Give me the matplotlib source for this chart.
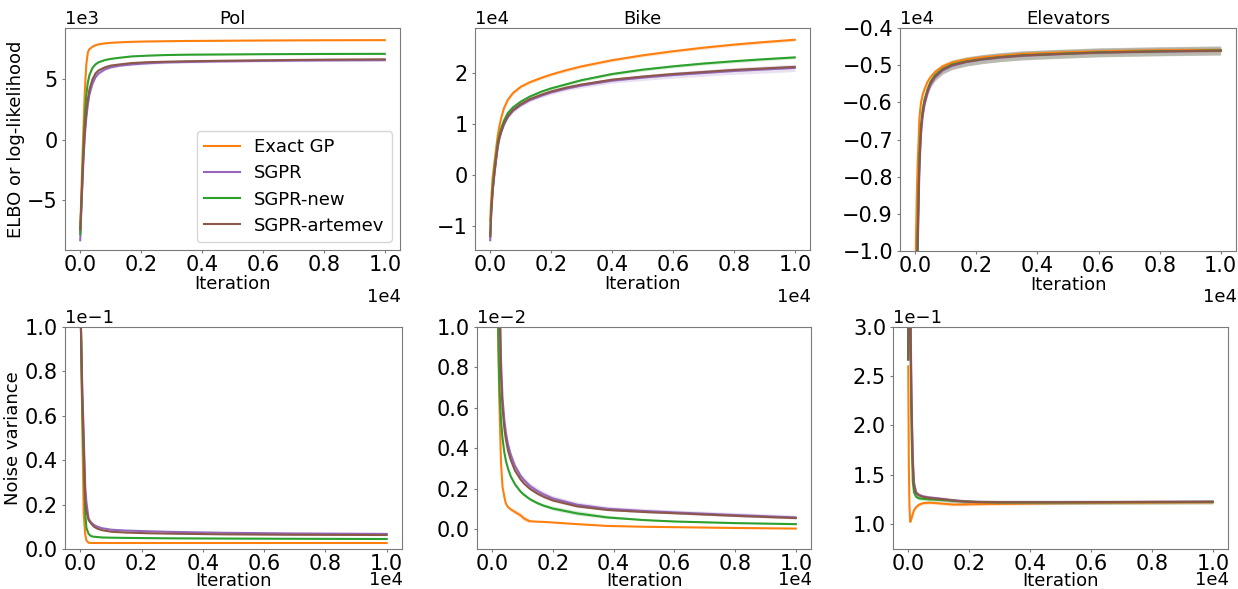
import matplotlib
matplotlib.use("Agg")
import matplotlib.pyplot as plt
from matplotlib.ticker import MultipleLocator, ScalarFormatter

plt.rcParams['font.family'] = ['DejaVu Sans']
plt.rcParams['font.size'] = 13

labels = ['Exact GP', 'SGPR', 'SGPR-new', 'SGPR-artemev']
colors = ['#ff7f0e', '#9467bd', '#2ca02c', '#8c564b']

# ---------------- Pol: ELBO ----------------
pol_elbo_it = [0, 50, 100, 150, 200, 250, 300, 400, 500, 600, 800, 1000, 1300, 1700, 2200, 2800, 3500, 4700, 6000, 8000, 10000]
pol_elbo_exact = [-7500, -3300, 500, 4000, 6200, 7190, 7450, 7650, 7780, 7850, 7930, 7980, 8020, 8060, 8090, 8110, 8130, 8150, 8170, 8190, 8200]
pol_elbo_sgpr = [-8300, -5000, -2000, 300, 1800, 2900, 3700, 4600, 5150, 5450, 5780, 5960, 6100, 6200, 6290, 6360, 6400, 6450, 6490, 6530, 6550]
pol_elbo_new = [-7800, -4500, -1000, 1800, 3700, 4700, 5300, 5900, 6200, 6370, 6550, 6650, 6750, 6860, 6920, 6970, 7000, 7020, 7040, 7060, 7070]
pol_elbo_artemev = [-7400, -4500, -1500, 800, 2300, 3300, 4100, 4950, 5450, 5700, 5950, 6100, 6200, 6310, 6380, 6420, 6460, 6500, 6540, 6590, 6620]
pol_elbo_band_exact = [30, 30, 30, 30, 30, 30, 30, 30, 30, 30, 30, 30, 30, 30, 30, 30, 30, 30, 30, 30, 30]
pol_elbo_band_sgpr = [150, 150, 150, 150, 150, 140, 130, 120, 110, 100, 100, 90, 90, 90, 90, 90, 90, 90, 90, 90, 90]
pol_elbo_band_new = [40, 40, 40, 40, 40, 40, 40, 30, 30, 30, 30, 30, 30, 30, 30, 30, 30, 30, 30, 30, 30]
pol_elbo_band_artemev = [80, 80, 80, 80, 80, 70, 60, 60, 50, 50, 50, 50, 50, 50, 50, 50, 50, 50, 50, 50, 50]

# ---------------- Bike: ELBO ----------------
bike_elbo_it = [0, 30, 80, 140, 200, 250, 300, 360, 450, 580, 750, 1000, 1300, 1700, 2000, 2500, 3000, 4000, 5000, 6000, 7000, 8000, 9000, 10000]
bike_elbo_exact = [-9000, -5000, -500, 2600, 5500, 7800, 9500, 11100, 13000, 14700, 16000, 17200, 18100, 19000, 19600, 20450, 21200, 22400, 23350, 24150, 24850, 25450, 25950, 26400]
bike_elbo_sgpr = [-12800, -8000, -3300, 200, 3200, 5500, 7000, 8300, 9800, 11300, 12500, 13600, 14600, 15500, 16100, 16850, 17450, 18400, 19000, 19500, 19900, 20300, 20600, 20900]
bike_elbo_new = [-12000, -7000, -2500, 1300, 4000, 6500, 7800, 9100, 10600, 12100, 13200, 14300, 15300, 16300, 16900, 17700, 18500, 19700, 20550, 21200, 21750, 22200, 22600, 22950]
bike_elbo_artemev = [-12000, -7500, -3000, 500, 3500, 5800, 7300, 8500, 10000, 11500, 12700, 13800, 14800, 15700, 16300, 17050, 17650, 18600, 19200, 19700, 20100, 20500, 20800, 21100]
bike_elbo_band_exact = [100, 100, 100, 150, 200, 250, 300, 300, 300, 300, 300, 300, 300, 300, 300, 300, 300, 300, 300, 300, 300, 300, 300, 300]
bike_elbo_band_sgpr = [200, 200, 200, 200, 250, 300, 300, 300, 300, 300, 300, 300, 350, 350, 400, 400, 450, 500, 550, 600, 650, 650, 700, 700]
bike_elbo_band_new = [100, 100, 100, 150, 200, 200, 200, 250, 250, 250, 250, 250, 250, 250, 250, 300, 300, 300, 300, 300, 300, 300, 300, 300]
bike_elbo_band_artemev = [150, 150, 150, 150, 200, 200, 200, 250, 250, 250, 250, 250, 250, 250, 300, 300, 300, 300, 300, 300, 300, 300, 300, 300]

# ---------------- Elevators: ELBO ----------------
elev_elbo_it = [0, 20, 50, 80, 110, 130, 160, 190, 240, 300, 400, 500, 650, 900, 1200, 1660, 2200, 2750, 3500, 4700, 6000, 8000, 10000]
elev_elbo_exact = [-15000, -9800, -8500, -7600, -7000, -6500, -6200, -6000, -5800, -5650, -5450, -5320, -5180, -5030, -4930, -4850, -4790, -4750, -4700, -4660, -4630, -4600, -4590]
elev_elbo_sgpr = [-20500, -14500, -11500, -10000, -8800, -8000, -7350, -6850, -6400, -6080, -5750, -5520, -5330, -5140, -5020, -4920, -4850, -4800, -4750, -4705, -4665, -4635, -4615]
elev_elbo_new = [-19500, -13500, -10600, -9400, -8300, -7600, -7000, -6600, -6200, -5930, -5650, -5450, -5270, -5100, -4985, -4900, -4835, -4785, -4735, -4695, -4655, -4625, -4605]
elev_elbo_artemev = [-20000, -14000, -11000, -9700, -8500, -7800, -7200, -6700, -6300, -6000, -5700, -5480, -5300, -5120, -5000, -4910, -4840, -4790, -4740, -4700, -4660, -4630, -4610]
elev_elbo_band_exact = [60, 60, 60, 60, 60, 60, 70, 70, 80, 80, 80, 80, 80, 80, 80, 80, 70, 70, 70, 70, 70, 70, 70]
elev_elbo_band_sgpr = [100, 100, 100, 100, 100, 100, 100, 110, 110, 110, 120, 120, 120, 120, 120, 120, 120, 120, 120, 120, 120, 120, 120]
elev_elbo_band_new = [100, 100, 100, 100, 100, 100, 100, 110, 110, 110, 120, 120, 120, 120, 120, 120, 120, 120, 120, 120, 120, 120, 120]
elev_elbo_band_artemev = [100, 100, 100, 100, 100, 100, 100, 110, 110, 110, 120, 120, 120, 120, 120, 120, 120, 120, 120, 120, 120, 120, 120]

# ---------------- Pol: noise variance ----------------
pol_noise_it = [0, 20, 60, 110, 160, 200, 270, 350, 450, 550, 700, 1000, 1500, 2200, 3000, 4700, 7000, 10000]
pol_noise_exact = [0.5, 0.1, 0.06, 0.016, 0.0065, 0.0038, 0.0028, 0.0027, 0.0027, 0.0027, 0.0027, 0.0027, 0.0027, 0.0027, 0.0027, 0.0027, 0.0027, 0.0027]
pol_noise_sgpr = [0.5, 0.1, 0.075, 0.052, 0.028, 0.021, 0.0137, 0.012, 0.0108, 0.0101, 0.0094, 0.0087, 0.0083, 0.0080, 0.0077, 0.0073, 0.0070, 0.0068]
pol_noise_new = [0.5, 0.1, 0.065, 0.04, 0.016, 0.0095, 0.0068, 0.0058, 0.0055, 0.0054, 0.0052, 0.0051, 0.0050, 0.0049, 0.0048, 0.0047, 0.0046, 0.0045]
pol_noise_artemev = [0.5, 0.1, 0.07, 0.047, 0.022, 0.017, 0.013, 0.0115, 0.0100, 0.0092, 0.0085, 0.0078, 0.0074, 0.0071, 0.0069, 0.0066, 0.0064, 0.0063]

# ---------------- Bike: noise variance ----------------
bike_noise_it = [0, 150, 190, 230, 260, 290, 340, 400, 450, 520, 610, 750, 940, 1050, 1210, 1270, 1500, 1700, 2000, 2800, 3800, 5000, 6000, 8000, 10000]
bike_noise_exact = [0.1, 0.014, 0.0102, 0.0067, 0.0050, 0.0033, 0.0021, 0.0016, 0.00127, 0.00110, 0.00098, 0.00085, 0.00068, 0.00053, 0.00041, 0.00039, 0.00037, 0.00036, 0.00033, 0.00025, 0.00016, 0.00012, 0.00010, 0.00006, 0.00003]
bike_noise_sgpr = [0.1, 0.035, 0.022, 0.015, 0.0110, 0.0084, 0.0065, 0.0054, 0.0048, 0.0042, 0.0037, 0.00313, 0.00263, 0.00243, 0.00219, 0.00211, 0.00188, 0.00172, 0.00152, 0.00121, 0.00101, 0.00090, 0.00083, 0.00070, 0.00058]
bike_noise_new = [0.1, 0.02, 0.0105, 0.0075, 0.0063, 0.0054, 0.0045, 0.0038, 0.0034, 0.0030, 0.00262, 0.00222, 0.00185, 0.00170, 0.00152, 0.00146, 0.00128, 0.00116, 0.00102, 0.00078, 0.00058, 0.00045, 0.00038, 0.00030, 0.00025]
bike_noise_artemev = [0.1, 0.03, 0.02, 0.013, 0.0098, 0.0076, 0.0060, 0.0050, 0.00445, 0.0039, 0.00343, 0.0029, 0.00245, 0.00226, 0.00204, 0.00197, 0.00175, 0.00160, 0.00142, 0.00113, 0.00095, 0.00085, 0.00079, 0.00066, 0.00055]
bike_noise_band_exact = [0, 0, 0, 0, 0, 0.00005, 0.00005, 0.00005, 0.00005, 0.00006, 0.00008, 0.0001, 0.00012, 0.00014, 0.0001, 0.00004, 0.00002, 0.00002, 0.00002, 0.00002, 0.00002, 0.00002, 0.00002, 0.00002, 0.00002]
bike_noise_band_sgpr = [0, 0.0003, 0.0003, 0.0003, 0.0003, 0.0003, 0.0002, 0.0002, 0.00015, 0.00015, 0.00015, 0.00015, 0.00015, 0.00015, 0.00015, 0.00015, 0.00015, 0.00014, 0.00013, 0.00012, 0.0001, 0.0001, 0.0001, 0.0001, 0.0001]
bike_noise_band_new = [0, 0.0001, 0.0001, 0.0001, 0.0001, 0.0001, 0.0001, 0.00008, 0.00008, 0.00008, 0.00008, 0.00008, 0.00008, 0.00008, 0.00008, 0.00008, 0.00008, 0.00008, 0.0001, 0.00012, 0.00008, 0.00003, 0.00003, 0.00003, 0.00003]
bike_noise_band_artemev = [0, 0.0002, 0.0002, 0.0002, 0.0002, 0.00015, 0.0001, 0.0001, 0.00008, 0.00008, 0.00008, 0.00008, 0.00008, 0.00008, 0.00008, 0.00008, 0.00008, 0.00008, 0.00008, 0.00008, 0.00006, 0.00006, 0.00006, 0.00006, 0.00006]

# ---------------- Elevators: noise variance ----------------
elev_noise_it = [0, 8, 20, 40, 66, 110, 150, 190, 260, 350, 480, 650, 800, 1150, 1460, 1800, 2230, 3000, 4700, 7000, 10000]
elev_noise_exact = [0.260, 0.22, 0.16, 0.118, 0.102, 0.106, 0.110, 0.114, 0.117, 0.1195, 0.121, 0.1215, 0.1214, 0.1205, 0.1197, 0.1197, 0.1200, 0.1203, 0.121, 0.1215, 0.122]
elev_noise_sgpr = [0.267, 0.5, 0.46, 0.40, 0.34, 0.225, 0.168, 0.142, 0.132, 0.1295, 0.128, 0.127, 0.1265, 0.1252, 0.124, 0.123, 0.1224, 0.122, 0.122, 0.1222, 0.1225]
elev_noise_new = [0.267, 0.5, 0.42, 0.36, 0.30, 0.19, 0.143, 0.132, 0.1275, 0.126, 0.1255, 0.125, 0.1248, 0.1242, 0.1235, 0.1228, 0.1222, 0.1218, 0.1218, 0.122, 0.1223]
elev_noise_artemev = [0.267, 0.5, 0.45, 0.38, 0.32, 0.216, 0.16, 0.138, 0.131, 0.129, 0.1275, 0.1265, 0.126, 0.125, 0.1238, 0.1228, 0.1222, 0.122, 0.122, 0.1222, 0.1225]
elev_noise_band_exact = [0, 0, 0, 0, 0.001, 0.0015, 0.002, 0.002, 0.002, 0.002, 0.0018, 0.0016, 0.0015, 0.0015, 0.0015, 0.0015, 0.0015, 0.0015, 0.0015, 0.0015, 0.0015]
elev_noise_band_sgpr = [0, 0, 0, 0, 0.002, 0.002, 0.002, 0.002, 0.002, 0.002, 0.002, 0.002, 0.002, 0.002, 0.002, 0.002, 0.002, 0.002, 0.002, 0.002, 0.002]
elev_noise_band_new = [0, 0, 0, 0, 0.002, 0.002, 0.002, 0.002, 0.002, 0.002, 0.002, 0.002, 0.002, 0.002, 0.002, 0.002, 0.002, 0.002, 0.002, 0.002, 0.002]
elev_noise_band_artemev = [0, 0, 0, 0, 0.002, 0.002, 0.002, 0.002, 0.002, 0.002, 0.002, 0.002, 0.002, 0.002, 0.002, 0.002, 0.002, 0.002, 0.002, 0.002, 0.002]

W, H = 1238, 589
fig = plt.figure(figsize=(W / 100, H / 100), dpi=100)


def px_rect(l, r, t, b):
    return [l / W, (H - b) / H, (r - l) / W, (b - t) / H]


SPINE = '#7a7a7a'
TICKSIZE = 15


def style(ax, ymajor, ylim, xoff_y_px, xlabelpad):
    ax.set_xlim(-500, 10500)
    ax.set_ylim(*ylim)
    ax.xaxis.set_major_locator(MultipleLocator(2000))
    ax.yaxis.set_major_locator(MultipleLocator(ymajor))
    for axis in (ax.xaxis, ax.yaxis):
        f = ScalarFormatter(useOffset=False, useMathText=False)
        f.set_scientific(True)
        f.set_powerlimits((0, 0))
        axis.set_major_formatter(f)
    for s in ax.spines.values():
        s.set_color(SPINE)
    ax.tick_params(axis='both', colors=SPINE, labelcolor='black', labelsize=TICKSIZE, length=2.5)
    ax.tick_params(axis='x', pad=1.2)
    ax.tick_params(axis='y', pad=2.5)
    ax.yaxis.get_offset_text().set_fontsize(13)
    # x-axis multiplier drawn as its own text
    ax.xaxis.get_offset_text().set_visible(False)
    bb = ax.get_position()
    fig.text(bb.x1 + 1 / W, 1 - xoff_y_px / H, '1e4', ha='right', va='center', fontsize=13)
    ax.set_xlabel('Iteration', labelpad=xlabelpad)


def draw(ax, it, series, bands):
    for k, (y, lab, c) in enumerate(zip(series, labels, colors)):
        ax.plot(it, y, color=c, lw=1.5, label=lab)
        if bands is not None and bands[k] is not None:
            lo = [a - b for a, b in zip(y, bands[k])]
            hi = [a + b for a, b in zip(y, bands[k])]
            ax.fill_between(it, lo, hi, color=c, alpha=0.2, lw=0)


# top row
ax1 = fig.add_axes(px_rect(65, 400, 28, 250))
draw(ax1, pol_elbo_it, [pol_elbo_exact, pol_elbo_sgpr, pol_elbo_new, pol_elbo_artemev],
     [pol_elbo_band_exact, pol_elbo_band_sgpr, pol_elbo_band_new, pol_elbo_band_artemev])
style(ax1, 5000, (-9100, 9200), 297, 0)
ax1.set_title('Pol', fontsize=13, pad=2)
ax1.set_ylabel('ELBO or log-likelihood', labelpad=2)
ax1.legend(loc='lower right', fontsize=13, labelspacing=0.45, borderaxespad=0.45)

ax2 = fig.add_axes(px_rect(475, 810, 28, 250))
draw(ax2, bike_elbo_it, [bike_elbo_exact, bike_elbo_sgpr, bike_elbo_new, bike_elbo_artemev],
     [bike_elbo_band_exact, bike_elbo_band_sgpr, bike_elbo_band_new, bike_elbo_band_artemev])
style(ax2, 10000, (-14700, 28700), 297, 0)
ax2.set_title('Bike', fontsize=13, pad=2)

ax3 = fig.add_axes(px_rect(900, 1236, 28, 251))
draw(ax3, elev_elbo_it, [elev_elbo_exact, elev_elbo_sgpr, elev_elbo_new, elev_elbo_artemev],
     [elev_elbo_band_exact, elev_elbo_band_sgpr, elev_elbo_band_new, elev_elbo_band_artemev])
style(ax3, 1000, (-10000, -4000), 297, 0)
ax3.set_title('Elevators', fontsize=13, pad=2)

# bottom row
ax4 = fig.add_axes(px_rect(65, 402, 327, 549))
draw(ax4, pol_noise_it, [pol_noise_exact, pol_noise_sgpr, pol_noise_new, pol_noise_artemev], None)
style(ax4, 0.02, (0.0, 0.1), 580, -1.8)
ax4.set_ylabel('Noise variance', labelpad=2)

ax5 = fig.add_axes(px_rect(477, 811, 327, 549))
draw(ax5, bike_noise_it, [bike_noise_exact, bike_noise_sgpr, bike_noise_new, bike_noise_artemev],
     [bike_noise_band_exact, bike_noise_band_sgpr, bike_noise_band_new, bike_noise_band_artemev])
style(ax5, 0.002, (-0.00098, 0.01), 580, -1.8)

ax6 = fig.add_axes(px_rect(893, 1228, 327, 549))
draw(ax6, elev_noise_it, [elev_noise_exact, elev_noise_sgpr, elev_noise_new, elev_noise_artemev],
     [elev_noise_band_exact, elev_noise_band_sgpr, elev_noise_band_new, elev_noise_band_artemev])
style(ax6, 0.05, (0.0745, 0.3), 580, -1.8)

fig.savefig('out.png', dpi=100)
